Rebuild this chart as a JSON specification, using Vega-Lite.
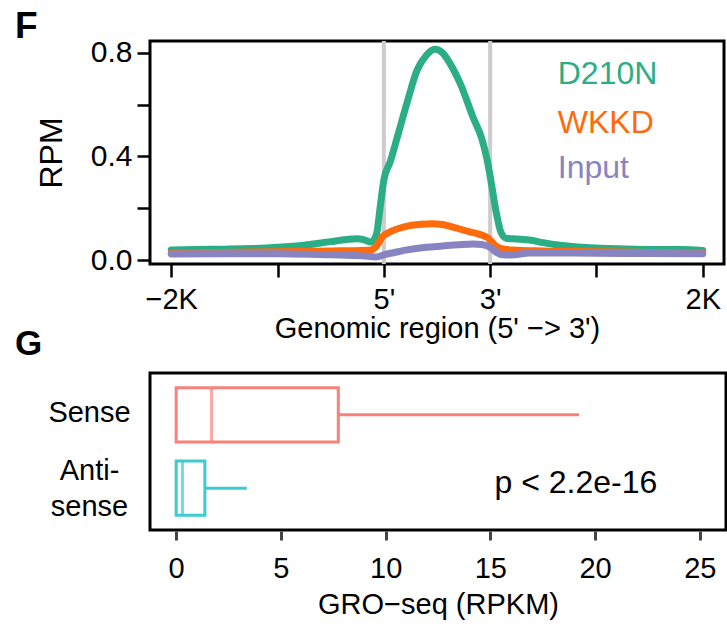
{
  "$schema": "https://vega.github.io/schema/vega-lite/v6.json",
  "padding": {"left": 13, "top": 6, "right": 0, "bottom": 0},
  "bounds": "flush",
  "spacing": 109,
  "resolve": {"scale": {"color": "independent"}},
  "config": {
    "font": "Liberation Sans",
    "view": {"stroke": "black", "strokeWidth": 3},
    "axis": {"labelColor": "black", "titleColor": "black", "titleFontWeight": "normal", "grid": false, "labelFont": "Liberation Sans", "titleFont": "Liberation Sans"},
    "title": {"font": "Liberation Sans", "color": "black"},
    "text": {"font": "Liberation Sans"}
  },
  "datasets": {
    "profile": [
      {"series": "D210N", "u": 0, "v": 0.040}, {"series": "D210N", "u": 0.25, "v": 0.042}, {"series": "D210N", "u": 0.5, "v": 0.043}, {"series": "D210N", "u": 0.75, "v": 0.045}, {"series": "D210N", "u": 1.0, "v": 0.050}, {"series": "D210N", "u": 1.25, "v": 0.058}, {"series": "D210N", "u": 1.5, "v": 0.072}, {"series": "D210N", "u": 1.65, "v": 0.080}, {"series": "D210N", "u": 1.75, "v": 0.083}, {"series": "D210N", "u": 1.82, "v": 0.078}, {"series": "D210N", "u": 1.88, "v": 0.070}, {"series": "D210N", "u": 1.93, "v": 0.10}, {"series": "D210N", "u": 1.97, "v": 0.22}, {"series": "D210N", "u": 2.0, "v": 0.31}, {"series": "D210N", "u": 2.06, "v": 0.38}, {"series": "D210N", "u": 2.13, "v": 0.48}, {"series": "D210N", "u": 2.22, "v": 0.61}, {"series": "D210N", "u": 2.31, "v": 0.73}, {"series": "D210N", "u": 2.40, "v": 0.79}, {"series": "D210N", "u": 2.48, "v": 0.813}, {"series": "D210N", "u": 2.55, "v": 0.80}, {"series": "D210N", "u": 2.62, "v": 0.76}, {"series": "D210N", "u": 2.72, "v": 0.68}, {"series": "D210N", "u": 2.84, "v": 0.55}, {"series": "D210N", "u": 2.92, "v": 0.47}, {"series": "D210N", "u": 2.97, "v": 0.39}, {"series": "D210N", "u": 3.01, "v": 0.30}, {"series": "D210N", "u": 3.05, "v": 0.20}, {"series": "D210N", "u": 3.1, "v": 0.11}, {"series": "D210N", "u": 3.15, "v": 0.085}, {"series": "D210N", "u": 3.25, "v": 0.082}, {"series": "D210N", "u": 3.37, "v": 0.078}, {"series": "D210N", "u": 3.5, "v": 0.068}, {"series": "D210N", "u": 3.62, "v": 0.060}, {"series": "D210N", "u": 3.8, "v": 0.052}, {"series": "D210N", "u": 3.94, "v": 0.048}, {"series": "D210N", "u": 4.2, "v": 0.044}, {"series": "D210N", "u": 4.5, "v": 0.042}, {"series": "D210N", "u": 4.8, "v": 0.042}, {"series": "D210N", "u": 5.0, "v": 0.038},
      {"series": "WKKD", "u": 0, "v": 0.028}, {"series": "WKKD", "u": 0.5, "v": 0.030}, {"series": "WKKD", "u": 1.0, "v": 0.033}, {"series": "WKKD", "u": 1.5, "v": 0.036}, {"series": "WKKD", "u": 1.8, "v": 0.038}, {"series": "WKKD", "u": 1.88, "v": 0.040}, {"series": "WKKD", "u": 1.93, "v": 0.055}, {"series": "WKKD", "u": 1.99, "v": 0.092}, {"series": "WKKD", "u": 2.05, "v": 0.108}, {"series": "WKKD", "u": 2.2, "v": 0.130}, {"series": "WKKD", "u": 2.35, "v": 0.139}, {"series": "WKKD", "u": 2.45, "v": 0.141}, {"series": "WKKD", "u": 2.55, "v": 0.138}, {"series": "WKKD", "u": 2.66, "v": 0.127}, {"series": "WKKD", "u": 2.8, "v": 0.110}, {"series": "WKKD", "u": 2.9, "v": 0.100}, {"series": "WKKD", "u": 2.98, "v": 0.086}, {"series": "WKKD", "u": 3.05, "v": 0.056}, {"series": "WKKD", "u": 3.12, "v": 0.044}, {"series": "WKKD", "u": 3.2, "v": 0.040}, {"series": "WKKD", "u": 3.5, "v": 0.036}, {"series": "WKKD", "u": 4.0, "v": 0.033}, {"series": "WKKD", "u": 4.5, "v": 0.030}, {"series": "WKKD", "u": 5.0, "v": 0.028},
      {"series": "Input", "u": 0, "v": 0.024}, {"series": "Input", "u": 0.5, "v": 0.025}, {"series": "Input", "u": 1.0, "v": 0.025}, {"series": "Input", "u": 1.5, "v": 0.021}, {"series": "Input", "u": 1.8, "v": 0.017}, {"series": "Input", "u": 1.93, "v": 0.013}, {"series": "Input", "u": 2.0, "v": 0.021}, {"series": "Input", "u": 2.1, "v": 0.030}, {"series": "Input", "u": 2.22, "v": 0.040}, {"series": "Input", "u": 2.4, "v": 0.050}, {"series": "Input", "u": 2.55, "v": 0.055}, {"series": "Input", "u": 2.7, "v": 0.060}, {"series": "Input", "u": 2.84, "v": 0.063}, {"series": "Input", "u": 2.92, "v": 0.061}, {"series": "Input", "u": 3.0, "v": 0.050}, {"series": "Input", "u": 3.06, "v": 0.030}, {"series": "Input", "u": 3.12, "v": 0.021}, {"series": "Input", "u": 3.2, "v": 0.020}, {"series": "Input", "u": 3.37, "v": 0.028}, {"series": "Input", "u": 3.6, "v": 0.028}, {"series": "Input", "u": 4.0, "v": 0.027}, {"series": "Input", "u": 4.5, "v": 0.026}, {"series": "Input", "u": 5.0, "v": 0.025}
    ],
    "legendLabels": [
      {"series": "D210N", "u": 3.636, "v": 0.679},
      {"series": "WKKD", "u": 3.636, "v": 0.490},
      {"series": "Input", "u": 3.636, "v": 0.317}
    ],
    "marks": [{"u": 2}, {"u": 3}],
    "boxes": [
      {"group": "Sense", "q1": 0, "med": 1.69, "q3": 7.74, "hi": 19.23},
      {"group": "Anti-sense", "q1": 0, "med": 0.3, "q3": 1.37, "hi": 3.37}
    ],
    "pval": [{"group": "Anti-sense", "x": 15.2, "txt": "p < 2.2e-16"}]
  },
  "vconcat": [
    {
      "width": 574,
      "height": 223,
      "title": {"text": "F", "anchor": "start", "frame": "group", "dx": -135, "dy": 38, "offset": 1, "baseline": "alphabetic", "fontSize": 37, "fontWeight": "bold"},
      "layer": [
        {
          "data": {"name": "marks"},
          "mark": {"type": "rule", "color": "#CCCCCC", "strokeWidth": 4},
          "encoding": {
            "x": {"field": "u", "type": "quantitative", "scale": {"domain": [-0.2, 5.2], "nice": false, "zero": false},
              "axis": {"values": [0, 1, 2, 3, 4, 5], "labelExpr": "datum.value == 0 ? '−2K' : datum.value == 2 ? \"5'\" : datum.value == 3 ? \"3'\" : datum.value == 5 ? '2K' : ''", "title": "Genomic region (5' −> 3')", "domain": false, "tickSize": 13, "tickWidth": 2.5, "tickColor": "black", "labelPadding": 8, "labelFontSize": 29, "titleFontSize": 29, "titlePadding": 0, "labelFlush": false, "labelOverlap": false}}
          }
        },
        {
          "data": {"name": "profile"},
          "mark": {"type": "line", "strokeWidth": 7, "strokeCap": "round", "strokeJoin": "round", "interpolate": "monotone"},
          "encoding": {
            "x": {"field": "u", "type": "quantitative", "scale": {"domain": [-0.2, 5.2], "nice": false, "zero": false},
              "axis": {"values": [0, 1, 2, 3, 4, 5], "labelExpr": "datum.value == 0 ? '−2K' : datum.value == 2 ? \"5'\" : datum.value == 3 ? \"3'\" : datum.value == 5 ? '2K' : ''", "title": "Genomic region (5' −> 3')", "domain": false, "tickSize": 13, "tickWidth": 2.5, "tickColor": "black", "labelPadding": 8, "labelFontSize": 29, "titleFontSize": 29, "titlePadding": 0, "labelFlush": false, "labelOverlap": false}},
            "y": {"field": "v", "type": "quantitative", "scale": {"domain": [-0.0143, 0.845], "nice": false, "zero": false},
              "axis": {"values": [0, 0.2, 0.4, 0.6, 0.8], "labelExpr": "datum.value == 0.2 || datum.value == 0.6 ? '' : format(datum.value, '.1f')", "title": "RPM", "domain": false, "tickSize": 13, "tickWidth": 2.5, "tickColor": "black", "labelPadding": 5, "labelFontSize": 30, "titleFontSize": 32, "titlePadding": 22, "labelFlush": false, "labelOverlap": false}},
            "color": {"field": "series", "type": "nominal", "scale": {"domain": ["D210N", "WKKD", "Input"], "range": ["#2BAE85", "#FF6A0A", "#8884C2"]}, "legend": null}
          }
        },
        {
          "data": {"name": "legendLabels"},
          "mark": {"type": "text", "align": "left", "baseline": "alphabetic", "fontSize": 32},
          "encoding": {
            "x": {"field": "u", "type": "quantitative"},
            "y": {"field": "v", "type": "quantitative"},
            "text": {"field": "series"},
            "color": {"field": "series", "type": "nominal", "legend": null}
          }
        }
      ]
    },
    {
      "width": 576,
      "height": 157,
      "title": {"text": "G", "anchor": "start", "frame": "group", "dx": -135, "dy": 32, "offset": 15, "baseline": "alphabetic", "fontSize": 35, "fontWeight": "bold"},
      "encoding": {
        "y": {"field": "group", "type": "nominal", "sort": ["Sense", "Anti-sense"], "scale": {"paddingInner": 0.26, "paddingOuter": 0.2},
          "axis": {"title": null, "ticks": false, "tickSize": 0, "domain": false, "labelAlign": "center", "labelBaseline": "middle", "labelPadding": 61, "labelFontSize": 29, "labelLineHeight": 36,
            "labelOffset": {"condition": {"test": "datum.value == 'Anti-sense'", "value": -17}, "value": -2},
            "labelExpr": "datum.value == 'Anti-sense' ? ['Anti-', 'sense'] : datum.label"}}
      },
      "layer": [
        {
          "data": {"name": "boxes"},
          "mark": {"type": "rule", "strokeWidth": 3},
          "encoding": {
            "x": {"field": "q3", "type": "quantitative", "scale": {"domain": [-1.25, 26.25], "nice": false, "zero": false},
              "axis": {"values": [0, 5, 10, 15, 20, 25], "title": "GRO−seq (RPKM)", "domain": false, "tickColor": "#444444", "tickWidth": 3, "tickSize": 9, "offset": 1, "labelPadding": 14, "labelFontSize": 29, "titleFontSize": 29, "titlePadding": 7, "labelFlush": false}},
            "x2": {"field": "hi"},
            "color": {"field": "group", "type": "nominal", "scale": {"domain": ["Sense", "Anti-sense"], "range": ["#FA807A", "#3BCBD0"]}, "legend": null}
          }
        },
        {
          "data": {"name": "boxes"},
          "mark": {"type": "bar", "filled": false, "strokeWidth": 3},
          "encoding": {
            "x": {"field": "q1", "type": "quantitative", "scale": {"domain": [-1.25, 26.25], "nice": false, "zero": false},
              "axis": {"values": [0, 5, 10, 15, 20, 25], "title": "GRO−seq (RPKM)", "domain": false, "tickColor": "#444444", "tickWidth": 3, "tickSize": 9, "offset": 1, "labelPadding": 14, "labelFontSize": 29, "titleFontSize": 29, "titlePadding": 7, "labelFlush": false}},
            "x2": {"field": "q3"},
            "color": {"field": "group", "type": "nominal", "legend": null}
          }
        },
        {
          "data": {"name": "boxes"},
          "mark": {"type": "tick", "orient": "vertical", "size": 54, "thickness": 3},
          "encoding": {
            "x": {"field": "med", "type": "quantitative", "scale": {"domain": [-1.25, 26.25], "nice": false, "zero": false},
              "axis": {"values": [0, 5, 10, 15, 20, 25], "title": "GRO−seq (RPKM)", "domain": false, "tickColor": "#444444", "tickWidth": 3, "tickSize": 9, "offset": 1, "labelPadding": 14, "labelFontSize": 29, "titleFontSize": 29, "titlePadding": 7, "labelFlush": false}},
            "color": {"field": "group", "type": "nominal", "legend": null}
          }
        },
        {
          "data": {"name": "pval"},
          "mark": {"type": "text", "align": "left", "baseline": "middle", "fontSize": 32, "dy": -5, "color": "black"},
          "encoding": {
            "x": {"field": "x", "type": "quantitative", "scale": {"domain": [-1.25, 26.25], "nice": false, "zero": false},
              "axis": {"values": [0, 5, 10, 15, 20, 25], "title": "GRO−seq (RPKM)", "domain": false, "tickColor": "#444444", "tickWidth": 3, "tickSize": 9, "offset": 1, "labelPadding": 14, "labelFontSize": 29, "titleFontSize": 29, "titlePadding": 7, "labelFlush": false}},
            "text": {"field": "txt"}
          }
        }
      ]
    }
  ]
}
